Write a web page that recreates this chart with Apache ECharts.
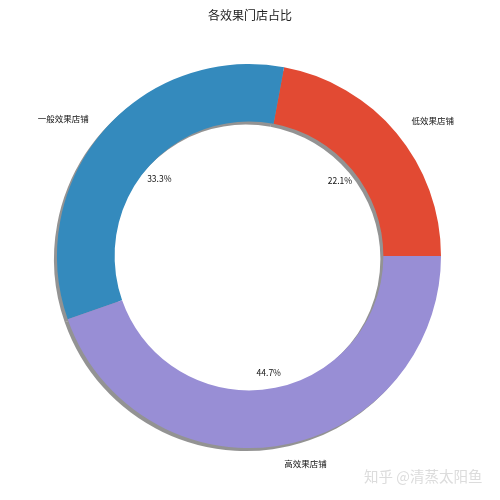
<!DOCTYPE html>
<html><head><meta charset="utf-8">
<script src="https://cdn.jsdelivr.net/npm/echarts@6/dist/echarts.min.js"></script>
<style>html,body{margin:0;padding:0;background:#fff}#c{width:500px;height:500px}</style>
</head><body><div id="c"></div>
<script>
const categories = ['低效果店铺', '一般效果店铺', '高效果店铺'];
const values = [22.1, 33.3, 44.7];
const colors = ['#E24A33', '#348ABD', '#988ED5'];
const titleText = '各效果门店占比';
const watermark = '知乎 @清蒸太阳鱼';

const font = '"Noto Sans CJK SC", sans-serif';
const R = 192, cx = 249, cy = 256;
const ringData = categories.map((n, i) => ({ name: n, value: values[i], itemStyle: { color: colors[i] } }));
const pctData = categories.map((n, i) => ({ name: n, value: values[i] }));

const chart = echarts.init(document.getElementById('c'));
chart.setOption({
  animation: false,
  backgroundColor: '#fff',
  title: { text: titleText, left: 'center', top: 4, textStyle: { fontFamily: font, fontSize: 12, fontWeight: 'normal', color: '#222' } },
  series: [
    {
      type: 'pie', center: [cx, cy], radius: [R * 0.7, R],
      startAngle: 0, clockwise: false, avoidLabelOverlap: false, silent: true,
      itemStyle: { shadowColor: 'rgba(120,120,120,0.8)', shadowBlur: 0, shadowOffsetX: -3, shadowOffsetY: 3 },
      label: { show: true, position: 'outside', formatter: '{b}', fontFamily: font, fontSize: 8.5, color: '#111', distanceToLabelLine: 0 },
      labelLine: { show: false, length: R * 0.1, length2: 0 },
      data: ringData
    },
    {
      type: 'pie', center: [cx, cy], radius: [0, R * 1.2],
      startAngle: 0, clockwise: false, avoidLabelOverlap: false, silent: true, z: 5,
      itemStyle: { color: 'rgba(0,0,0,0)' },
      label: { show: true, position: 'inside', formatter: p => p.value.toFixed(1) + '%', fontFamily: font, fontSize: 8.5, color: '#111' },
      labelLine: { show: false },
      data: pctData
    }
  ],
  graphic: [{ type: 'text', left: 364, top: 469, silent: true,
    style: { text: watermark, fontFamily: font, fontSize: 14.5, fill: '#dcdcdc' } }]
});
</script></body></html>
